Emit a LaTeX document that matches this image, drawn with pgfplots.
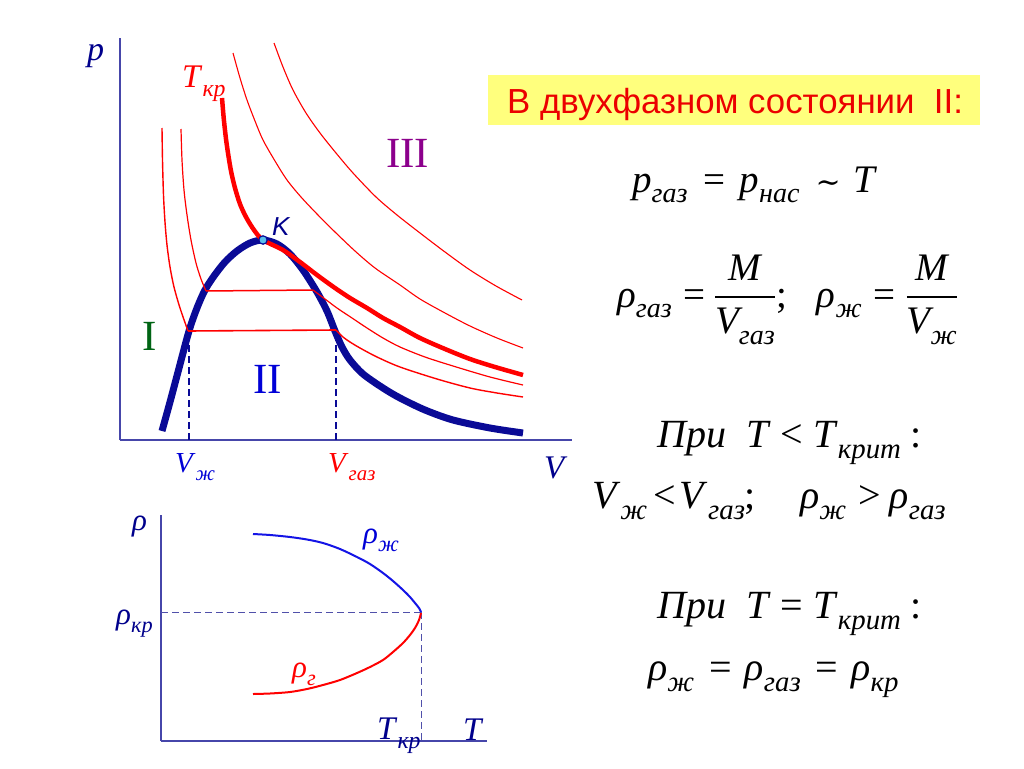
\RequirePackage{fix-cm}
\documentclass[border=0pt]{standalone}
\usepackage{amsmath}
\usepackage{fontspec}
\setmainfont{Liberation Serif}
\newfontfamily\arial{Liberation Sans}
\newfontfamily\djv{DejaVu Serif}
\usepackage{graphicx}
\usepackage{pgfplots}
\pgfplotsset{compat=1.18}

\definecolor{axisblue}{RGB}{70,70,170}
\definecolor{navy}{RGB}{10,10,150}
\definecolor{lblue}{RGB}{0,0,140}
\definecolor{vblue}{RGB}{0,0,215}
\definecolor{myred}{RGB}{255,0,0}
\definecolor{titlered}{RGB}{235,0,0}
\definecolor{titleyellow}{RGB}{255,255,125}
\definecolor{mygreen}{RGB}{0,100,20}
\definecolor{mypurple}{RGB}{140,0,140}
\definecolor{kfill}{RGB}{90,190,235}
\definecolor{rblue}{RGB}{20,20,230}
\definecolor{dashblue}{RGB}{80,80,170}

\newcommand\fs[1]{\fontsize{#1}{#1}\selectfont}
\newcommand\sub[1]{\raisebox{-0.28em}{\scalebox{0.72}{\itshape #1}}}
\newcommand\fr[2]{$\displaystyle\genfrac{}{}{1.6pt}{}{\,#1\,}{#2}$}
\newcommand\hs[1]{\hspace*{#1pt}}

\begin{document}
\begin{tikzpicture}
\fill[white] (0pt,0pt) rectangle (1024pt,-768pt);
% title box
\fill[titleyellow] (488pt,-75pt) rectangle (980pt,-125pt);
\node[anchor=base west, inner sep=0pt, text=titlered, font=\arial\fs{34.8}] at (507pt,-113pt) {В двухфазном состоянии\ \ II:};

% ---------- p-V diagram ----------
\begin{axis}[
  at={(120pt,-440pt)}, anchor=south west,
  scale only axis, width=452pt, height=402pt,
  xmin=120, xmax=572, ymin=-440, ymax=-38,
  axis lines=left, axis line style={-, draw=axisblue, line width=1.2pt},
  xtick=\empty, ytick=\empty, clip=false]
% binodal
\addplot[draw=navy, line width=7pt, smooth, tension=0.5] coordinates {
 (162,-431) (170,-402) (178,-372) (189,-331) (197,-308) (205,-290) (214,-276)
 (225,-262) (237,-251) (250,-243) (263,-240) (277,-244) (290,-254) (303,-270)
 (317,-292) (327,-311) (335,-331) (342,-347) (350,-360) (363,-374) (383,-388)
 (400,-398) (425,-410) (453,-420) (490,-428) (523,-433)};
% dashed verticals
\addplot[draw=navy, line width=1.4pt, dash pattern=on 7pt off 4pt] coordinates {(189,-334) (189,-440)};
\addplot[draw=navy, line width=1.4pt, dash pattern=on 7pt off 4pt] coordinates {(336,-334) (336,-440)};
% isotherm A
\addplot[draw=myred, line width=1.4pt, smooth] coordinates {
 (162,-128) (162.5,-160) (163.5,-195) (165,-222) (167,-245) (170,-267) (174,-287) (180,-308) (188,-331)};
\addplot[draw=myred, line width=1.6pt] coordinates {(188,-331) (336,-330)};
\addplot[draw=myred, line width=1.4pt, smooth] coordinates {
 (336,-330) (343,-337) (350,-342) (360,-348) (377,-357) (400,-367) (437,-379) (470,-388) (497,-393) (523,-397)};
% isotherm B
\addplot[draw=myred, line width=1.2pt, smooth] coordinates {
 (181,-129) (182,-160) (184,-190) (187,-215) (191,-240) (196,-263) (201,-279) (206,-291)};
\addplot[draw=myred, line width=1.5pt] coordinates {(206,-291) (313,-290)};
\addplot[draw=myred, line width=1.2pt, smooth] coordinates {
 (313,-290) (325,-299) (337,-308) (352,-318) (367,-328) (383,-338) (400,-347) (425,-357) (453,-366) (490,-377) (523,-385)};
% critical isotherm
\addplot[draw=myred, line width=4.5pt, smooth] coordinates {
 (222,-98) (223,-110) (224,-121) (226,-139) (228,-153) (231,-171) (235,-188) (240,-204)
 (246,-217) (254,-230) (263,-240) (283,-250) (300,-262) (317,-275) (335,-288) (350,-298)
 (367,-308) (383,-318) (400,-327) (420,-338) (445,-349) (470,-359) (495,-367) (523,-375)};
% higher isotherms
\addplot[draw=myred, line width=1.1pt, smooth] coordinates {
 (233,-53) (240,-78) (247,-100) (255,-121) (263,-140) (275,-161) (287,-180) (301,-197)
 (317,-214) (335,-232) (355,-251) (375,-268) (400,-285) (420,-299) (445,-313) (470,-326)
 (497,-338) (523,-348)};
\addplot[draw=myred, line width=1.1pt, smooth] coordinates {
 (274,-43) (283,-67) (293,-90) (306,-113) (320,-133) (336,-153) (353,-173) (376,-197)
 (397,-215) (420,-233) (445,-252) (470,-270) (496,-286) (522,-300)};
% critical point
\addplot[only marks, mark=*, mark size=4.2pt, mark options={fill=kfill, draw=navy, line width=1.2pt}] coordinates {(263,-240)};
\end{axis}

% ---------- rho-T diagram ----------
\begin{axis}[
  at={(161pt,-741pt)}, anchor=south west,
  scale only axis, width=326pt, height=226pt,
  xmin=161, xmax=487, ymin=-741, ymax=-515,
  axis lines=left, axis line style={-, draw=axisblue, line width=1.2pt},
  xtick=\empty, ytick=\empty, clip=false]
\addplot[draw=dashblue, line width=1pt, dash pattern=on 7pt off 4pt] coordinates {(161,-612) (421,-612)};
\addplot[draw=dashblue, line width=1pt, dash pattern=on 7pt off 4pt] coordinates {(421,-612) (421,-741)};
\addplot[draw=rblue, line width=2pt, smooth] coordinates {
 (253,-534) (270,-535) (290,-537) (307,-539.5) (323,-543) (340,-549) (357,-557) (370,-564)
 (383,-573) (393,-581) (403,-590) (410,-597) (415,-603) (419,-608) (421,-612)};
\addplot[draw=myred, line width=2pt, smooth] coordinates {
 (253,-694) (270,-693.5) (290,-692) (307,-689) (323,-685) (340,-680) (357,-673) (370,-667)
 (383,-660) (393,-652) (403,-643) (410,-635) (415,-628) (419,-620) (421,-613)};
\end{axis}

% ---------- labels in the diagrams ----------
\begin{scope}[every node/.style={anchor=base west, inner sep=0pt}]
\node[text=lblue, font=\fs{34}] at (87pt,-60pt) {\textit{p}};
\node[text=myred, font=\fs{33}] at (182pt,-87pt) {\textit{T}\sub{кр}};
\node[text=lblue, font=\arial\itshape\fs{26}] at (272pt,-235pt) {K};
\node[text=mygreen, font=\fs{43}] at (142pt,-350pt) {I};
\node[text=vblue, font=\fs{43}] at (253pt,-393pt) {II};
\node[text=mypurple, font=\fs{43}] at (386pt,-167pt) {III};
\node[text=vblue, font=\fs{29}] at (175pt,-472pt) {\textit{V}\sub{ж}};
\node[text=myred, font=\fs{29}] at (328pt,-472pt) {\textit{V}\sub{газ}};
\node[text=lblue, font=\fs{33}] at (544pt,-478pt) {\textit{V}};
\node[text=lblue, font=\fs{31}] at (132pt,-530pt) {\textit{ρ}};
\node[text=lblue, font=\fs{31}] at (116pt,-624pt) {\textit{ρ}\sub{кр}};
\node[text=vblue, font=\fs{31}] at (363pt,-543pt) {\textit{ρ}\sub{ж}};
\node[text=myred, font=\fs{31}] at (292pt,-677pt) {\textit{ρ}\sub{г}};
\node[text=lblue, font=\fs{33}] at (377pt,-739pt) {\textit{T}\sub{кр}};
\node[text=lblue, font=\fs{33}] at (463pt,-740pt) {\textit{T}};

% ---------- formulas ----------
\node[font=\fs{39}] at (632pt,-192pt) {\textit{p}\sub{газ}\hs{16}=\hs{14}\textit{p}\sub{нас}\hs{16}{\djv\fs{30}∼}\hs{13}\textit{T}};
\node[font=\fs{39}] at (617pt,-307pt) {\textit{ρ}\sub{газ}\hs{12}=\hs{8}\fr{\textit{M}}{\textit{V}\sub{газ}};\hs{30}\textit{ρ}\sub{ж}\hs{12}=\hs{10}\fr{\textit{M}}{\textit{V}\sub{ж}}};
\node[font=\fs{40}] at (657pt,-447pt) {\textit{При}\ \ \textit{T} < \textit{T}\sub{крит}\ :};
\node[font=\fs{40}] at (592pt,-508pt) {\textit{V}\sub{ж}\hs{6}<\hs{4}\textit{V}\sub{газ};\hs{44}\textit{ρ}\sub{ж}\hs{12}>\hs{9}\textit{ρ}\sub{газ}};
\node[font=\fs{40}] at (657pt,-618pt) {\textit{При}\ \ \textit{T} = \textit{T}\sub{крит}\ :};
\node[font=\fs{40}] at (648pt,-680pt) {\textit{ρ}\sub{ж}\hs{15}=\hs{13}\textit{ρ}\sub{газ}\hs{15}=\hs{13}\textit{ρ}\sub{кр}};
\end{scope}
\end{tikzpicture}
\end{document}
